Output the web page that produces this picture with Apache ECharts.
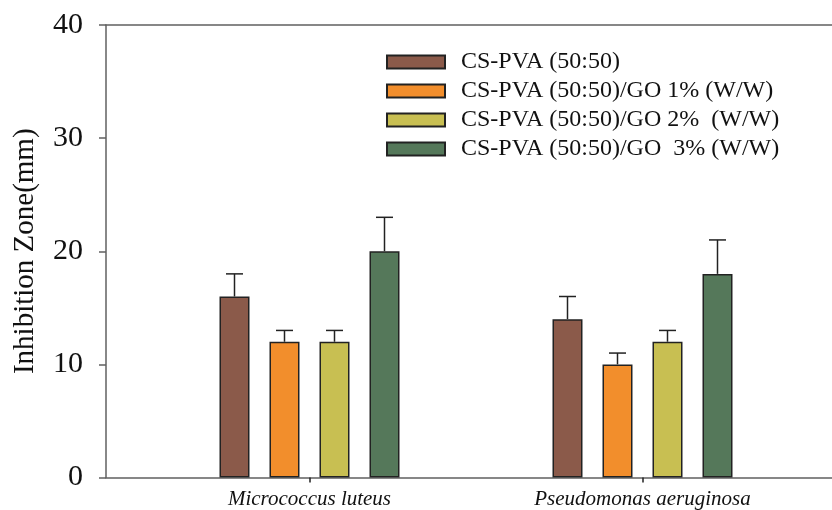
<!DOCTYPE html>
<html>
<head>
<meta charset="utf-8">
<script src="https://cdn.jsdelivr.net/npm/echarts@6/dist/echarts.min.js"></script>
<style>html,body{margin:0;padding:0;background:#fff;}#c{width:832px;height:510px;}</style>
</head>
<body>
<div id="c"></div>
<script>
var categories = ['Micrococcus luteus', 'Pseudomonas aeruginosa'];
var seriesNames = ['CS-PVA (50:50)', 'CS-PVA (50:50)/GO 1% (W/W)', 'CS-PVA (50:50)/GO 2%  (W/W)', 'CS-PVA (50:50)/GO  3% (W/W)'];
var csPva = [16, 14];
var go1 = [12, 10];
var go2 = [12, 12];
var go3 = [20, 18];
var csPvaErr = [2, 2];
var go1Err = [1, 1];
var go2Err = [1, 1];
var go3Err = [3, 3];
var yTicks = [0, 10, 20, 30, 40];

var colors = ['#8B5A4A', '#F28E2C', '#C8BF52', '#55785A'];
var values = [csPva, go1, go2, go3];
var errs = [csPvaErr, go1Err, go2Err, go3Err];
var FONT = 'Liberation Serif';
var BAR_W = 30, BAR_STEP = 50, CAP = 17;
var AXIS_COLOR = '#606060';

var chart = echarts.init(document.getElementById('c'));
var series = [];
values.forEach(function (vals, k) {
  series.push({
    name: seriesNames[k],
    type: 'bar',
    xAxisIndex: 1, yAxisIndex: 1,
    barWidth: BAR_W,
    barGap: '66.67%',
    data: vals,
    itemStyle: { color: colors[k], borderColor: '#222', borderWidth: 1.5 },
    emphasis: { disabled: true }
  });
});
values.forEach(function (vals, k) {
  series.push({
    type: 'custom',
    xAxisIndex: 1, yAxisIndex: 1,
    z: 5,
    silent: true,
    data: vals.map(function (v, i) { return [i, v, errs[k][i]]; }),
    renderItem: function (params, api) {
      var ci = api.value(0), v = api.value(1), e = api.value(2);
      var base = api.coord([ci, v]);
      var top = api.coord([ci, v + e]);
      var x = base[0] + (k - 1.5) * BAR_STEP;
      var st = { stroke: '#222', lineWidth: 1.5 };
      return {
        type: 'group',
        children: [
          { type: 'line', shape: { x1: x, y1: base[1], x2: x, y2: top[1] }, style: st },
          { type: 'line', shape: { x1: x - CAP / 2, y1: top[1], x2: x + CAP / 2, y2: top[1] }, style: st }
        ]
      };
    }
  });
});

var frameLine = { show: true, lineStyle: { color: AXIS_COLOR, width: 1.5 } };

chart.setOption({
  animation: false,
  backgroundColor: '#fff',
  legend: {
    orient: 'vertical',
    left: 386, top: 50,
    padding: 0,
    itemWidth: 58, itemHeight: 13, itemGap: 5,
    icon: 'rect',
    data: seriesNames,
    selectedMode: false,
    textStyle: { fontFamily: FONT, fontSize: 24, color: '#111', lineHeight: 23, padding: [0, 0, 0, 11] }
  },
  grid: [
    { left: 106, right: 0, top: 25, bottom: 32.5 },
    { left: 143, right: 23, top: 25, bottom: 32.5 }
  ],
  xAxis: [
    { type: 'value', gridIndex: 0, position: 'bottom', min: 0, max: 1,
      axisLine: frameLine, axisTick: { show: false }, axisLabel: { show: false }, splitLine: { show: false } },
    {
      type: 'category', gridIndex: 1, data: categories,
      axisLine: { show: false },
      axisTick: { show: true, alignWithLabel: true, length: 5, lineStyle: { color: '#222', width: 1.5 } },
      axisLabel: { fontFamily: FONT, fontStyle: 'italic', fontSize: 21, color: '#111', margin: 11 }
    },
    { type: 'value', gridIndex: 0, position: 'top', min: 0, max: 1,
      axisLine: frameLine, axisTick: { show: false }, axisLabel: { show: false }, splitLine: { show: false } }
  ],
  yAxis: [
    {
      type: 'value', gridIndex: 0, min: yTicks[0], max: yTicks[yTicks.length - 1], interval: 10,
      name: 'Inhibition Zone(mm)', nameLocation: 'middle', nameGap: 66,
      nameTextStyle: { fontFamily: FONT, fontSize: 29, color: '#111' },
      axisLine: frameLine,
      axisTick: { show: true, length: 7, lineStyle: { color: AXIS_COLOR, width: 1.5 } },
      axisLabel: { fontFamily: FONT, fontSize: 30, color: '#111', margin: 23 },
      splitLine: { show: false }
    },
    { type: 'value', gridIndex: 1, show: false, min: yTicks[0], max: yTicks[yTicks.length - 1] }
  ],
  series: series
});
</script>
</body>
</html>
